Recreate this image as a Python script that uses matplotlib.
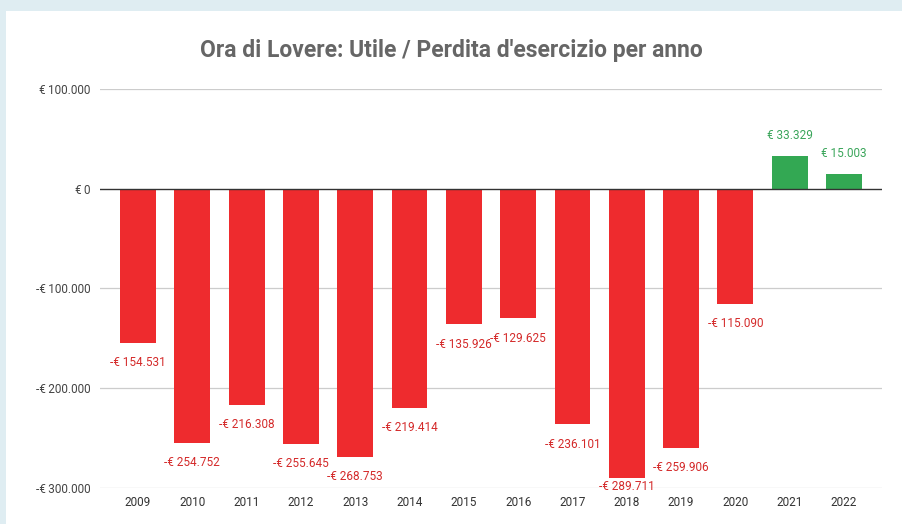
import matplotlib
matplotlib.use("Agg")
import matplotlib.pyplot as plt
from matplotlib.patches import Rectangle

plt.rcParams["font.family"] = ["Roboto", "DejaVu Sans"]

# ── data ──────────────────────────────────────────────────────────────────────
years = ["2009", "2010", "2011", "2012", "2013", "2014", "2015",
         "2016", "2017", "2018", "2019", "2020", "2021", "2022"]
result = [-154531, -254752, -216308, -255645, -268753, -219414, -135926,
          -129625, -236101, -289711, -259906, -115090, 33329, 15003]
yticks = [100000, 0, -100000, -200000, -300000]

RED = "#ee2b2e"
GREEN = "#33a853"
RED_TXT = "#d42a2a"
GREEN_TXT = "#3aa55a"
YMIN, YMAX = -300000, 100000


def euro(v):
    s = f"{abs(v):,}".replace(",", ".")
    return f"-€ {s}" if v < 0 else f"€ {s}"


def euro_tick(v):
    s = f"{abs(int(v)):,}".replace(",", ".")
    return f"-€\u2009{s}" if v < 0 else f"€\u2009{s}"


fig = plt.figure(figsize=(9.03, 5.24), dpi=100)
fig.patch.set_facecolor("#dfedf2")
# white card
fig.add_artist(Rectangle((6 / 903, 0), 1, 1 - 11 / 524, transform=fig.transFigure,
                         facecolor="white", edgecolor="none", zorder=0))

ax = fig.add_axes([100 / 903, 1 - 488 / 524, 782 / 903, 399 / 524])
ax.set_facecolor("none")

x = list(range(len(years)))
colors = [RED if v < 0 else GREEN for v in result]
ax.bar(x, result, width=0.66, color=colors, zorder=2)

# labels sit ~20px from bar end, kept inside the plot area like Sheets does
gap = (YMAX - YMIN) * 0.05
for xi, v in zip(x, result):
    if v < 0:
        ax.text(xi, max(v - gap, YMIN + gap * 0.1), euro(v), ha="center", va="center",
                fontsize=8.5, color=RED_TXT, zorder=3)
    else:
        ax.text(xi, v + gap, euro(v), ha="center", va="center",
                fontsize=8.5, color=GREEN_TXT, zorder=3)

ax.set_xlim(-0.70, 13.70)
ax.set_ylim(YMIN, YMAX)
ax.set_yticks(yticks)
ax.set_yticklabels([euro_tick(t) for t in yticks], fontsize=8.5, color="#444444")
ax.set_xticks(x)
ax.set_xticklabels(years, fontsize=8.5, color="#333333")
ax.tick_params(length=0, pad=6)
ax.tick_params(axis="y", pad=7)

for t in yticks:
    if t != 0:
        ax.axhline(t, color="#cccccc", linewidth=0.9, zorder=1)
ax.axhline(0, color="#333333", linewidth=1.0, zorder=3)

for sp in ax.spines.values():
    sp.set_visible(False)

fig.text(0.5, 1 - 50 / 524, "Ora di Lovere: Utile / Perdita d'esercizio per anno",
         ha="center", va="center", fontsize=16.5, fontweight="bold", color="#666666")

plt.savefig("out.png", dpi=100)
plt.close()
